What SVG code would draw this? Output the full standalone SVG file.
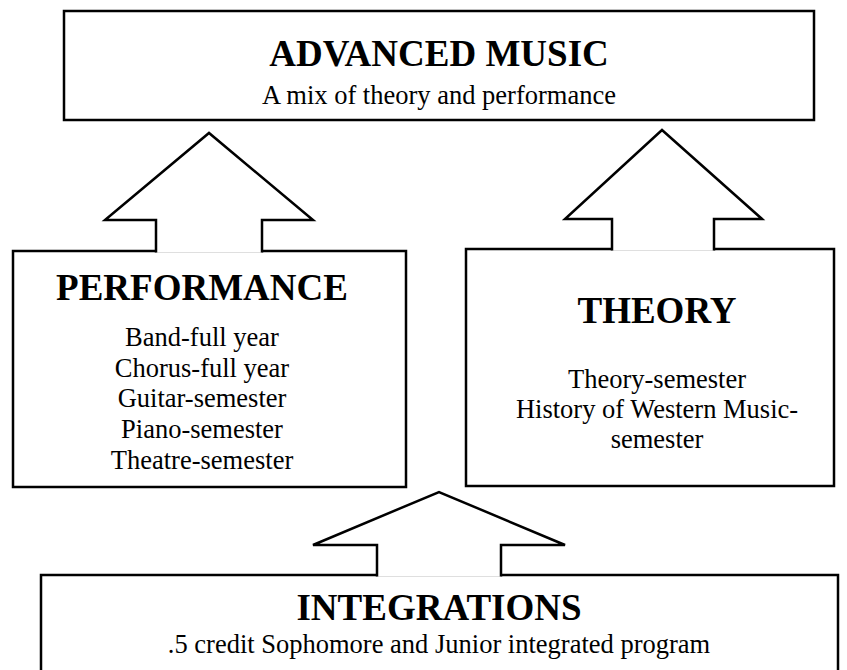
<svg xmlns="http://www.w3.org/2000/svg" width="847" height="670" viewBox="0 0 847 670">
<style>
.box{fill:#fff;stroke:#000;stroke-width:2.5}
.arrow{fill:#fff;stroke:#000;stroke-width:2.5;stroke-linejoin:miter}
.h{font-family:"Liberation Serif","Times New Roman",serif;font-weight:bold;font-size:37px;fill:#000;text-anchor:middle}
.t{font-family:"Liberation Serif","Times New Roman",serif;font-size:26.5px;fill:#000;text-anchor:middle}
</style>
<rect width="847" height="670" fill="#fff"/>
<g id="advanced-music">
<rect class="box" x="64" y="11" width="750" height="109"/>
<text class="h" x="439" y="66">ADVANCED MUSIC</text>
<text class="t" x="439" y="104">A mix of theory and performance</text>
</g>
<g id="performance">
<rect class="box" x="13" y="251" width="393" height="236"/>
<text class="h" x="202" y="300">PERFORMANCE</text>
<text class="t" x="202" y="346">Band-full year</text>
<text class="t" x="202" y="377">Chorus-full year</text>
<text class="t" x="202" y="407">Guitar-semester</text>
<text class="t" x="202" y="438">Piano-semester</text>
<text class="t" x="202" y="469">Theatre-semester</text>
</g>
<g id="theory">
<rect class="box" x="466" y="249" width="368" height="237"/>
<text class="h" x="657" y="323">THEORY</text>
<text class="t" x="657" y="388">Theory-semester</text>
<text class="t" x="657" y="418">History of Western Music-</text>
<text class="t" x="657" y="448">semester</text>
</g>
<g id="integrations">
<rect class="box" x="41" y="575" width="797" height="130"/>
<text class="h" x="439" y="620">INTEGRATIONS</text>
<text class="t" x="439" y="653">.5 credit Sophomore and Junior integrated program</text>
</g>
<g id="connectors">
<path class="arrow" d="M156,252.5 V220 H105 L209,133 L313,220 H262 V252.5"/>
<path class="arrow" d="M612,250.5 V219 H565 L662,130 L762,219 H714 V250.5"/>
<path class="arrow" d="M377,576.5 V545 H313 L439,492 L565,545 H501 V576.5"/>
</g>
</svg>
